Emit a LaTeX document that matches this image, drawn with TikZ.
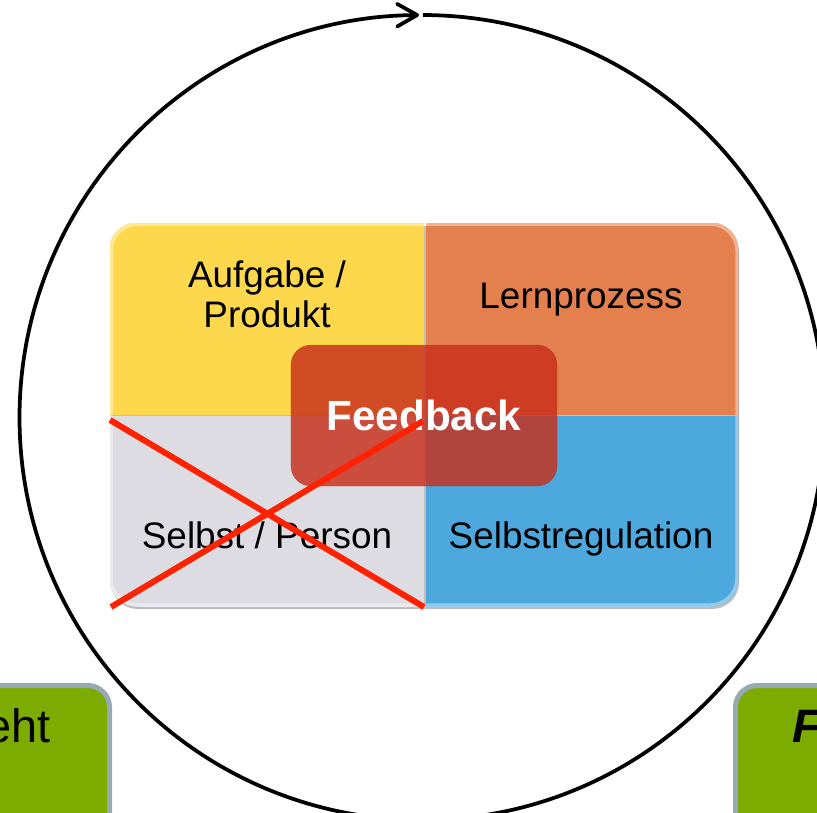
\documentclass[tikz,border=0pt]{standalone}
\usepackage{fontspec}
\setmainfont{Liberation Sans}
\usetikzlibrary{positioning,arrows.meta,calc}

\definecolor{quadyellow}{RGB}{253,216,76}
\definecolor{quadorange}{RGB}{228,128,78}
\definecolor{quadgrey}{RGB}{220,220,226}
\definecolor{quadblue}{RGB}{77,168,222}
\definecolor{fbred}{RGB}{200,46,26}
\definecolor{crossred}{RGB}{255,34,0}
\definecolor{boxgreen}{RGB}{125,172,0}
\definecolor{boxrim}{RGB}{150,170,180}

\begin{document}
\begin{tikzpicture}[
    x=0.03cm, y=0.03cm,
    quad/.style={fill=#1, draw=#1!85!black, line width=0.6pt, rounded corners=0.8cm},
    bevel/.style={draw=#1!60!white, line width=3pt, rounded corners=0.8cm},
    quadtext/.style={font=\fontsize{31.5}{34}\selectfont, align=center, text=black},
    fbbox/.style={rectangle, fill=fbred, fill opacity=0.82, text opacity=1,
                  draw=fbred!80!black, draw opacity=0.4, rounded corners=0.6cm,
                  minimum width=7.98cm, minimum height=4.23cm, text=white,
                  font=\fontsize{36}{40}\selectfont\bfseries},
    cross/.style={crossred, line width=0.18cm},
    ring/.style={line width=3.2pt, black, -{Straight Barb[length=0.6cm, width=0.68cm, round]}},
    greenbox/.style={rectangle, fill=boxgreen, draw=boxrim, line width=0.15cm,
                     rounded corners=0.65cm, minimum width=6cm, minimum height=5.4cm},
    boxtext/.style={font=\fontsize{40}{44}\selectfont, text=black}
]
\clip (0,0) rectangle (817,-812);
\useasboundingbox (0,0) rectangle (817,-812);

% big cycle arrow
\coordinate (hub) at (422,-417.5);
\draw[ring] ($(hub)+(89.86:402.5)$) arc[start angle=89.86, end angle=-269.57, radius=402.5];

% soft shadow under the block
\fill[black!25, rounded corners=0.8cm] (111,-226) rectangle (739,-609);

% four quadrants
\begin{scope}
    \clip (110,-223) rectangle (424,-414);
    \path[quad=quadyellow] (110,-223) rectangle (700,-700);
    \path[bevel=quadyellow] (111,-224) rectangle (700,-700);
\end{scope}
\begin{scope}
    \clip (426,-223) rectangle (738,-414);
    \path[quad=quadorange] (0,-223) rectangle (738,-700);
    \path[bevel=quadorange] (0,-224) rectangle (737,-700);
\end{scope}
\begin{scope}
    \clip (110,-416) rectangle (424,-606);
    \path[quad=quadgrey] (110,0) rectangle (700,-606);
    \path[bevel=quadgrey] (111,0) rectangle (700,-605);
\end{scope}
\begin{scope}
    \clip (426,-416) rectangle (738,-606);
    \path[quad=quadblue] (0,0) rectangle (738,-606);
    \path[bevel=quadblue] (0,0) rectangle (737,-605);
\end{scope}

\node[quadtext] (aufgabe) at (267,-294) {Aufgabe /\\Produkt};
\node[quadtext, anchor=base] (lernen) at (581,-308) {Lernprozess};
\node[quadtext, anchor=base] (selbst) at (267,-548) {Selbst / Person};
\node[quadtext, anchor=base] (regul) at (581,-548) {Selbstregulation};

% centre box
\node[fbbox] (feedback) at (424,-415.5) {Feedback};

% crossed out
\coordinate (xtl) at (110,-420);
\coordinate (xbr) at (424,-607);
\coordinate (xbl) at (111,-607);
\coordinate (xtr) at (423,-421);
\draw[cross] (xtl) -- (xbr);
\draw[cross] (xbl) -- (xtr);

% side boxes (cut by the frame)
\node[greenbox, anchor=north east] (lbox) at (112,-683) {};
\node[greenbox, anchor=north west] (rbox) at (733,-683) {};
\node[boxtext, anchor=base east] (ltext) at (55,-742) {eht};
\node[boxtext, anchor=base west, font=\fontsize{40}{44}\selectfont\bfseries\itshape] (rtext) at (788,-742) {F};
\end{tikzpicture}
\end{document}
